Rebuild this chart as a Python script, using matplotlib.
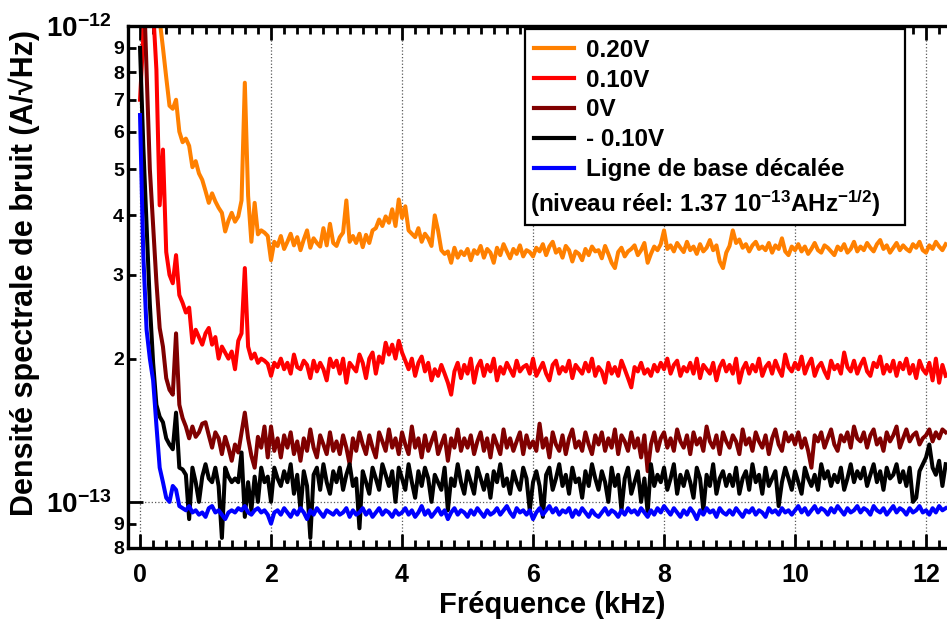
import numpy as np
import matplotlib
matplotlib.use("Agg")
import matplotlib.pyplot as plt
from matplotlib.patches import Rectangle
from matplotlib.ticker import MultipleLocator

plt.rcParams['font.family'] = ['Liberation Sans', 'DejaVu Sans']
plt.rcParams['font.weight'] = 'bold'
plt.rcParams['axes.labelweight'] = 'bold'
plt.rcParams['mathtext.fontset'] = 'custom'
plt.rcParams['mathtext.rm'] = 'Liberation Sans:bold'
plt.rcParams['mathtext.bf'] = 'Liberation Sans:bold'
plt.rcParams['mathtext.it'] = 'Liberation Sans:bold:italic'

# frequency grid (kHz), one sample every 0.05 kHz
freq_step = 0.05
n_points = 247

# noise spectral densities, in units of 1e-15 A/sqrt(Hz), one row per kHz
v_p020 = [
    3000, 2500, 2000, 1700, 1400, 1200, 1030, 900, 780, 680, 670, 700, 600, 570, 580, 560, 505, 520, 490, 475,
    450, 425, 445, 428, 415, 405, 370, 390, 405, 388, 398, 430, 760, 440, 352, 425, 365, 372, 368, 362,
    322, 352, 345, 362, 340, 352, 366, 346, 360, 338, 356, 372, 342, 358, 350, 344, 376, 346, 384, 350,
    345, 360, 368, 430, 352, 362, 350, 366, 343, 364, 350, 372, 376, 392, 380, 398, 386, 412, 380, 432,
    395, 418, 372, 366, 360, 376, 352, 366, 358, 345, 400, 372, 338, 332, 336, 318, 342, 326, 336, 330,
    340, 322, 338, 332, 345, 326, 340, 334, 318, 342, 330, 348, 336, 325, 340, 332, 346, 328, 338, 335,
    328, 342, 336, 348, 330, 344, 352, 334, 340, 326, 345, 338, 320, 336, 332, 322, 340, 330, 344, 336,
    338, 325, 345, 332, 318, 310, 335, 342, 328, 336, 340, 346, 330, 338, 350, 318, 332, 344, 338, 348,
    372, 340, 346, 336, 350, 342, 335, 352, 338, 344, 332, 348, 336, 342, 355, 338, 346, 320, 310, 334,
    345, 372, 350, 356, 342, 348, 336, 346, 352, 340, 344, 338, 350, 334, 346, 340, 358, 336, 330, 344,
    338, 348, 336, 344, 332, 340, 350, 338, 334, 346, 342, 336, 330, 344, 338, 348, 334, 340, 352, 336,
    344, 338, 350, 342, 336, 348, 355, 340, 346, 334, 342, 350, 338, 346, 340, 336, 348, 342, 352, 338,
    334, 346, 340, 352, 344, 338, 348,
]
v_p010 = [
    700, 950, 1500, 1300, 1080, 810, 420, 550, 335, 300, 288, 330, 272, 262, 250, 256, 216, 230, 222, 214,
    226, 232, 214, 222, 200, 212, 206, 200, 207, 190, 218, 226, 310, 212, 200, 205, 196, 200, 198, 195,
    184, 196, 192, 200, 190, 196, 186, 204, 192, 190, 198, 194, 182, 198, 188, 196, 190, 180, 200, 192,
    198, 186, 200, 178, 196, 192, 188, 204, 196, 182, 200, 206, 186, 202, 196, 216, 204, 214, 200, 218,
    206, 198, 190, 200, 184, 196, 202, 188, 196, 180, 190, 184, 194, 186, 178, 168, 188, 196, 182, 194,
    186, 200, 178, 192, 198, 184, 194, 188, 200, 180, 192, 186, 196, 190, 184, 198, 188, 192, 194, 186,
    200, 184, 190, 196, 186, 180, 194, 198, 186, 192, 188, 198, 182, 194, 190, 186, 196, 188, 200, 184,
    192, 188, 178, 196, 186, 192, 184, 198, 190, 182, 174, 192, 188, 196, 186, 190, 184, 194, 188, 196,
    190, 200, 186, 194, 198, 184, 192, 188, 196, 186, 200, 182, 194, 190, 186, 196, 180, 192, 198, 188,
    194, 186, 200, 178, 190, 196, 186, 194, 188, 200, 184, 192, 196, 186, 198, 190, 184, 204, 192, 188,
    196, 190, 202, 186, 194, 200, 184, 192, 196, 188, 182, 198, 190, 194, 186, 206, 192, 188, 198, 186,
    194, 200, 188, 184, 196, 192, 202, 186, 194, 188, 198, 184, 196, 190, 200, 186, 194, 182, 198, 190,
    186, 196, 180, 200, 178, 194, 184,
]
v_0 = [
    1800, 1300, 800, 500, 380, 290, 232, 212, 182, 172, 168, 226, 160, 150, 144, 136, 144, 137, 140, 146,
    147, 138, 130, 140, 136, 126, 137, 130, 122, 132, 127, 140, 154, 136, 125, 118, 137, 130, 144, 124,
    144, 128, 136, 124, 138, 130, 140, 126, 134, 122, 136, 128, 142, 130, 124, 138, 132, 126, 140, 128,
    134, 126, 138, 130, 120, 136, 128, 140, 132, 126, 138, 130, 124, 140, 134, 128, 142, 130, 136, 126,
    140, 132, 126, 144, 130, 136, 124, 138, 128, 134, 140, 126, 132, 138, 122, 136, 130, 142, 128, 136,
    130, 138, 126, 134, 140, 128, 136, 124, 138, 132, 126, 142, 130, 136, 128, 134, 140, 126, 138, 130,
    134, 128, 146, 130, 136, 124, 140, 132, 128, 138, 126, 136, 142, 130, 134, 128, 140, 132, 126, 138,
    132, 140, 128, 136, 130, 142, 126, 138, 134, 128, 140, 130, 136, 124, 138, 116, 132, 140, 128, 136,
    140, 130, 136, 128, 142, 134, 130, 138, 126, 140, 132, 136, 128, 144, 134, 130, 138, 126, 140, 134,
    130, 138, 134, 126, 142, 132, 136, 128, 140, 134, 130, 138, 126, 136, 142, 132, 128, 140, 134, 138,
    132, 140, 130, 136, 128, 118, 138, 134, 140, 130, 136, 142, 132, 128, 138, 134, 140, 130, 144, 136,
    134, 140, 130, 138, 142, 132, 136, 128, 140, 134, 138, 144, 130, 136, 142, 134, 138, 140, 132, 136,
    138, 142, 134, 140, 136, 142, 140,
]
v_m010 = [
    900, 560, 380, 260, 196, 160, 151, 147, 136, 132, 129, 154, 118, 117, 114, 92, 118, 110, 100, 113,
    120, 112, 110, 118, 108, 84, 118, 113, 110, 112, 110, 127, 93, 110, 96, 113, 100, 118, 110, 113,
    100, 118, 112, 108, 116, 110, 120, 104, 114, 96, 116, 108, 84, 114, 118, 106, 120, 110, 104, 116,
    110, 118, 106, 114, 120, 108, 112, 88, 116, 110, 104, 118, 112, 106, 120, 114, 108, 116, 100, 118,
    112, 106, 120, 110, 102, 116, 108, 118, 112, 100, 114, 110, 106, 118, 96, 112, 108, 120, 110, 104,
    116, 110, 104, 118, 112, 106, 114, 102, 116, 110, 120, 108, 112, 104, 116, 110, 106, 118, 112, 96,
    110, 116, 108, 93, 114, 118, 106, 112, 120, 108, 114, 104, 118, 110, 112, 102, 116, 108, 120, 112,
    106, 116, 110, 100, 118, 108, 114, 96, 112, 118, 104, 110, 116, 100, 112, 95, 120, 108, 114, 110,
    118, 106, 112, 120, 104, 114, 108, 116, 110, 102, 118, 112, 96, 114, 108, 120, 104, 112, 116, 108,
    114, 108, 118, 104, 112, 116, 106, 120, 110, 114, 104, 118, 108, 112, 116, 98, 110, 118, 112, 106,
    116, 110, 104, 118, 112, 108, 114, 106, 120, 112, 116, 108, 114, 110, 118, 106, 112, 120, 110, 116,
    112, 118, 108, 114, 120, 110, 116, 106, 118, 112, 114, 120, 110, 116, 108, 118, 100, 102, 116, 120,
    124, 132, 118, 114, 122, 108, 120,
]
v_base = [
    650, 330, 230, 200, 180, 145, 118, 110, 102, 100, 108, 106, 98, 97, 96, 98, 95, 96, 94, 95,
    93, 97, 98, 95, 96, 94, 92, 95, 96, 95, 97, 96, 98, 95, 94, 96, 97, 95, 96, 94,
    90, 95, 96, 94, 97, 95, 93, 96, 94, 97, 95, 92, 96, 94, 97, 95, 93, 96, 95, 94,
    96, 94, 95, 97, 93, 96, 94, 95, 97, 94, 96, 93, 95, 97, 94, 96, 95, 93, 96, 94,
    95, 97, 94, 96, 93, 95, 98, 94, 96, 93, 95, 97, 94, 96, 92, 95, 97, 94, 96, 95,
    93, 96, 94, 97, 95, 93, 96, 94, 95, 97, 94, 96, 98, 95, 93, 97, 95, 96, 94, 96,
    92, 95, 97, 94, 96, 98, 95, 97, 94, 96, 95, 97, 93, 96, 94, 97, 95, 93, 96, 94,
    93, 95, 97, 94, 96, 95, 93, 96, 94, 97, 95, 96, 94, 97, 95, 93, 96, 94, 97, 95,
    98, 96, 94, 97, 95, 93, 96, 94, 97, 95, 92, 96, 94, 97, 95, 96, 93, 97, 95, 94,
    96, 94, 97, 95, 93, 96, 95, 97, 94, 96, 95, 93, 97, 95, 96, 94, 97, 95, 96, 94,
    96, 98, 95, 97, 94, 96, 98, 95, 97, 96, 94, 97, 95, 98, 96, 94, 97, 95, 96, 98,
    95, 97, 96, 94, 98, 96, 95, 97, 94, 96, 98, 95, 97, 96, 94, 97, 95, 96, 98, 95,
    96, 94, 97, 95, 98, 96, 97,
]

series = [v_p020, v_p010, v_0, v_m010, v_base]
labels = ['0.20V', '0.10V', '0V', '- 0.10V', 'Ligne de base décalée']
colors = ['#FF8000', '#FF0000', '#800000', '#000000', '#0000FF']

x_major = [0, 2, 4, 6, 8, 10, 12]
y_major = [1e-13, 1e-12]
y_major_labels = ['$10^{-13}$', '$10^{-12}$']
y_minor = [8e-14, 9e-14, 2e-13, 3e-13, 4e-13, 5e-13, 6e-13, 7e-13, 8e-13, 9e-13]
y_minor_labels = ['8', '9', '2', '3', '4', '5', '6', '7', '8', '9']

freq = np.round(np.arange(n_points) * freq_step, 2)

fig = plt.figure(figsize=(9.47, 6.24), dpi=100)
ax = fig.add_axes([0.1352, 0.1218, 0.8648, 0.8365])

for vals, lab, col in zip(series, labels, colors):
    ax.plot(freq, np.array(vals) * 1e-15, color=col, lw=2.9, label=lab)

ax.set_yscale('log')
ax.set_xlim(-0.183, 12.32)
ax.set_ylim(8e-14, 1e-12)

ax.set_xticks(x_major)
ax.xaxis.set_minor_locator(MultipleLocator(0.2))
ax.set_yticks(y_major, y_major_labels)
ax.set_yticks(y_minor, y_minor_labels, minor=True)

ax.tick_params(axis='x', which='both', direction='in', top=True, width=2, labelsize=18, pad=11)
ax.tick_params(axis='x', which='major', length=10)
ax.tick_params(axis='x', which='minor', length=6)
ax.tick_params(axis='y', which='both', direction='in', width=2)
ax.tick_params(axis='y', which='major', length=11, labelsize=20, pad=12)
ax.tick_params(axis='y', which='minor', length=6, labelsize=14, pad=3)
for t in ax.get_xticklabels() + ax.get_yticklabels(which='both'):
    t.set_fontweight('bold')

for side in ['left', 'top', 'bottom']:
    ax.spines[side].set_linewidth(2.4)
ax.spines['right'].set_visible(False)

ax.grid(True, which='major', linestyle=':', color='0.35', linewidth=0.9)

ax.set_xlabel('Fréquence (kHz)', fontsize=21, fontweight='bold')
ax.set_ylabel('Densité spectrale de bruit (A/√Hz)', fontsize=22, fontweight='bold')
ax.xaxis.set_label_coords(0.518, -0.083)
ax.yaxis.set_label_coords(-0.108, 0.527)

leg = ax.legend(loc='upper left', bbox_to_anchor=(0.488, 0.987), frameon=False,
                fontsize=17.5, handlelength=1.65, handletextpad=0.5, labelspacing=0.28,
                borderaxespad=0, borderpad=0.25)
for line in leg.get_lines():
    line.set_linewidth(3)

ax.text(0.491, 0.659, '(niveau réel: 1.37 10$^{-13}$AHz$^{-1/2}$)', transform=ax.transAxes,
        fontsize=17.5, fontweight='bold', va='center', ha='left', zorder=6)
ax.add_patch(Rectangle((0.4847, 0.6188), 0.464, 0.3755, transform=ax.transAxes,
                       facecolor='white', edgecolor='black', linewidth=1.6, zorder=4))
leg.set_zorder(6)

fig.savefig('out.png', dpi=100)
